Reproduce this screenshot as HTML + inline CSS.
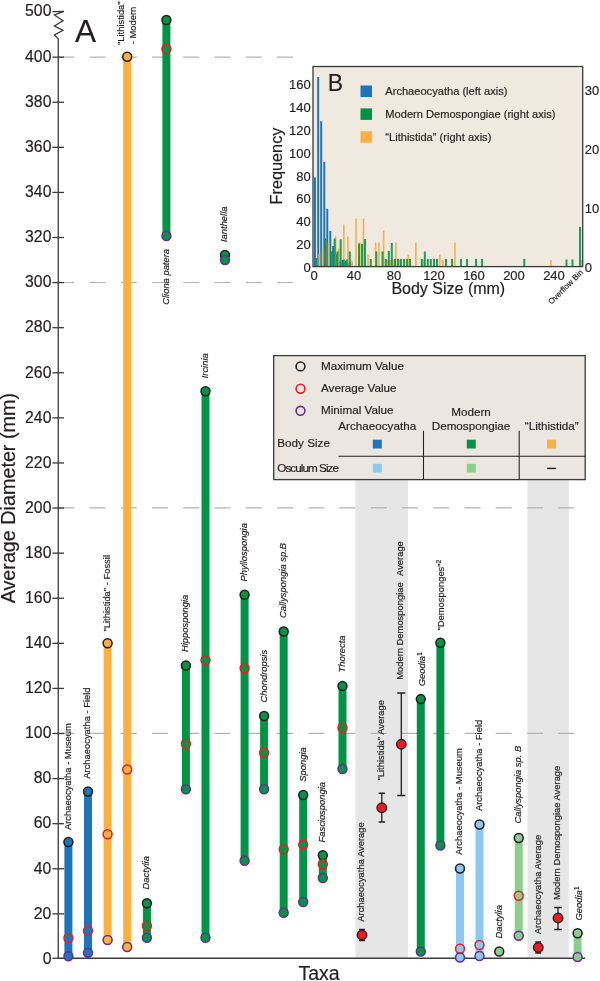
<!DOCTYPE html>
<html><head><meta charset="utf-8"><title>Figure</title>
<style>html,body{margin:0;padding:0;background:#fff}svg{display:block;will-change:transform}text{stroke:#231f20;stroke-width:0.18px}</style></head>
<body>
<svg width="600" height="981" viewBox="0 0 600 981" font-family="'Liberation Sans', Arial, sans-serif" fill="#231f20">
<rect width="600" height="981" fill="#fff"/>
<rect x="355.5" y="480" width="52.5" height="477.6" fill="#e6e6e7"/>
<rect x="527.5" y="480" width="41.3" height="477.6" fill="#e6e6e7"/>
<line x1="58.25" y1="733.40" x2="575.3" y2="733.40" stroke="#b1b3b5" stroke-width="1.2" stroke-dasharray="16 15.25"/>
<line x1="58.25" y1="507.95" x2="575.3" y2="507.95" stroke="#b1b3b5" stroke-width="1.2" stroke-dasharray="16 15.25"/>
<line x1="58.25" y1="282.50" x2="293.3" y2="282.50" stroke="#b1b3b5" stroke-width="1.2" stroke-dasharray="16 15.25"/>
<line x1="58.25" y1="57.05" x2="293.3" y2="57.05" stroke="#b1b3b5" stroke-width="1.2" stroke-dasharray="16 15.25"/>
<path d="M64,11.3 L52.4,11.6 M64,11.3 L54.4,15 L63,20.7 L54.4,26 L63,30.3 L54.4,35 L58.25,38.7 L58.25,958.25 L585,958.25" fill="none" stroke="#3a3a3a" stroke-width="1.3" stroke-linejoin="miter"/>
<line x1="52.4" y1="958.25" x2="58.25" y2="958.25" stroke="#3a3a3a" stroke-width="1.3"/>
<line x1="52.4" y1="913.86" x2="64" y2="913.86" stroke="#3a3a3a" stroke-width="1.3"/>
<line x1="52.4" y1="868.77" x2="64" y2="868.77" stroke="#3a3a3a" stroke-width="1.3"/>
<line x1="52.4" y1="823.68" x2="64" y2="823.68" stroke="#3a3a3a" stroke-width="1.3"/>
<line x1="52.4" y1="778.59" x2="64" y2="778.59" stroke="#3a3a3a" stroke-width="1.3"/>
<line x1="52.4" y1="733.50" x2="64" y2="733.50" stroke="#3a3a3a" stroke-width="1.3"/>
<line x1="52.4" y1="688.41" x2="64" y2="688.41" stroke="#3a3a3a" stroke-width="1.3"/>
<line x1="52.4" y1="643.32" x2="64" y2="643.32" stroke="#3a3a3a" stroke-width="1.3"/>
<line x1="52.4" y1="598.23" x2="64" y2="598.23" stroke="#3a3a3a" stroke-width="1.3"/>
<line x1="52.4" y1="553.14" x2="64" y2="553.14" stroke="#3a3a3a" stroke-width="1.3"/>
<line x1="52.4" y1="508.05" x2="64" y2="508.05" stroke="#3a3a3a" stroke-width="1.3"/>
<line x1="52.4" y1="462.96" x2="64" y2="462.96" stroke="#3a3a3a" stroke-width="1.3"/>
<line x1="52.4" y1="417.87" x2="64" y2="417.87" stroke="#3a3a3a" stroke-width="1.3"/>
<line x1="52.4" y1="372.78" x2="64" y2="372.78" stroke="#3a3a3a" stroke-width="1.3"/>
<line x1="52.4" y1="327.69" x2="64" y2="327.69" stroke="#3a3a3a" stroke-width="1.3"/>
<line x1="52.4" y1="282.60" x2="64" y2="282.60" stroke="#3a3a3a" stroke-width="1.3"/>
<line x1="52.4" y1="237.51" x2="64" y2="237.51" stroke="#3a3a3a" stroke-width="1.3"/>
<line x1="52.4" y1="192.42" x2="64" y2="192.42" stroke="#3a3a3a" stroke-width="1.3"/>
<line x1="52.4" y1="147.33" x2="64" y2="147.33" stroke="#3a3a3a" stroke-width="1.3"/>
<line x1="52.4" y1="102.24" x2="64" y2="102.24" stroke="#3a3a3a" stroke-width="1.3"/>
<line x1="52.4" y1="57.15" x2="64" y2="57.15" stroke="#3a3a3a" stroke-width="1.3"/>
<text x="51.4" y="963.70" font-size="15.75" text-anchor="end">0</text>
<text x="51.4" y="918.61" font-size="15.75" text-anchor="end">20</text>
<text x="51.4" y="873.52" font-size="15.75" text-anchor="end">40</text>
<text x="51.4" y="828.43" font-size="15.75" text-anchor="end">60</text>
<text x="51.4" y="783.34" font-size="15.75" text-anchor="end">80</text>
<text x="51.4" y="738.25" font-size="15.75" text-anchor="end">100</text>
<text x="51.4" y="693.16" font-size="15.75" text-anchor="end">120</text>
<text x="51.4" y="648.07" font-size="15.75" text-anchor="end">140</text>
<text x="51.4" y="602.98" font-size="15.75" text-anchor="end">160</text>
<text x="51.4" y="557.89" font-size="15.75" text-anchor="end">180</text>
<text x="51.4" y="512.80" font-size="15.75" text-anchor="end">200</text>
<text x="51.4" y="467.71" font-size="15.75" text-anchor="end">220</text>
<text x="51.4" y="422.62" font-size="15.75" text-anchor="end">240</text>
<text x="51.4" y="377.53" font-size="15.75" text-anchor="end">260</text>
<text x="51.4" y="332.44" font-size="15.75" text-anchor="end">280</text>
<text x="51.4" y="287.35" font-size="15.75" text-anchor="end">300</text>
<text x="51.4" y="242.26" font-size="15.75" text-anchor="end">320</text>
<text x="51.4" y="197.17" font-size="15.75" text-anchor="end">340</text>
<text x="51.4" y="152.08" font-size="15.75" text-anchor="end">360</text>
<text x="51.4" y="106.99" font-size="15.75" text-anchor="end">380</text>
<text x="51.4" y="61.90" font-size="15.75" text-anchor="end">400</text>
<text x="51.4" y="16.1" font-size="15.75" text-anchor="end">500</text>
<text x="75.0" y="41.5" font-size="31.5">A</text>
<text transform="translate(15.2,498.2) rotate(-90)" font-size="19.75" text-anchor="middle">Average Diameter (mm)</text>
<text x="319.0" y="979.5" font-size="19.5" text-anchor="middle">Taxa</text>
<line x1="68.40" y1="842.00" x2="68.40" y2="956.25" stroke="#1c75bc" stroke-width="8"/>
<circle cx="68.40" cy="842.00" r="4.45" fill="#1c75bc" stroke="#231f20" stroke-width="1.55"/>
<circle cx="68.40" cy="938.00" r="4.45" fill="#1c75bc" stroke="#ed1c24" stroke-width="1.55"/>
<circle cx="68.40" cy="956.25" r="4.45" fill="#1c75bc" stroke="#662d91" stroke-width="1.55"/>
<line x1="88.00" y1="791.50" x2="88.00" y2="952.75" stroke="#1c75bc" stroke-width="8"/>
<circle cx="88.00" cy="791.50" r="4.45" fill="#1c75bc" stroke="#231f20" stroke-width="1.55"/>
<circle cx="88.00" cy="930.75" r="4.45" fill="#1c75bc" stroke="#ed1c24" stroke-width="1.55"/>
<circle cx="88.00" cy="952.75" r="4.45" fill="#1c75bc" stroke="#662d91" stroke-width="1.55"/>
<line x1="107.60" y1="643.25" x2="107.60" y2="940.00" stroke="#fbb040" stroke-width="8"/>
<circle cx="107.60" cy="643.25" r="4.45" fill="#fbb040" stroke="#231f20" stroke-width="1.55"/>
<circle cx="107.60" cy="834.25" r="4.45" fill="#fbb040" stroke="#ed1c24" stroke-width="1.55"/>
<circle cx="107.60" cy="940.00" r="4.45" fill="#fbb040" stroke="#662d91" stroke-width="1.55"/>
<line x1="127.20" y1="56.75" x2="127.20" y2="947.00" stroke="#fbb040" stroke-width="8"/>
<circle cx="127.20" cy="56.75" r="4.45" fill="#fbb040" stroke="#231f20" stroke-width="1.55"/>
<circle cx="127.20" cy="769.50" r="4.45" fill="#fbb040" stroke="#ed1c24" stroke-width="1.55"/>
<circle cx="127.20" cy="947.00" r="4.45" fill="#fbb040" stroke="#662d91" stroke-width="1.55"/>
<line x1="146.90" y1="903.25" x2="146.90" y2="937.75" stroke="#009444" stroke-width="8"/>
<circle cx="146.90" cy="903.25" r="4.45" fill="#009444" stroke="#231f20" stroke-width="1.55"/>
<circle cx="146.90" cy="925.75" r="4.45" fill="#009444" stroke="#ed1c24" stroke-width="1.55"/>
<circle cx="146.90" cy="937.75" r="4.45" fill="#009444" stroke="#662d91" stroke-width="1.55"/>
<line x1="166.40" y1="20.00" x2="166.40" y2="236.00" stroke="#009444" stroke-width="8"/>
<circle cx="166.40" cy="20.00" r="4.45" fill="#009444" stroke="#231f20" stroke-width="1.55"/>
<circle cx="166.40" cy="49.00" r="4.45" fill="#009444" stroke="#ed1c24" stroke-width="1.55"/>
<circle cx="166.40" cy="236.00" r="4.45" fill="#009444" stroke="#662d91" stroke-width="1.55"/>
<line x1="185.90" y1="665.50" x2="185.90" y2="789.25" stroke="#009444" stroke-width="8"/>
<circle cx="185.90" cy="665.50" r="4.45" fill="#009444" stroke="#231f20" stroke-width="1.55"/>
<circle cx="185.90" cy="743.75" r="4.45" fill="#009444" stroke="#ed1c24" stroke-width="1.55"/>
<circle cx="185.90" cy="789.25" r="4.45" fill="#009444" stroke="#662d91" stroke-width="1.55"/>
<line x1="205.50" y1="391.25" x2="205.50" y2="937.70" stroke="#009444" stroke-width="8"/>
<circle cx="205.50" cy="391.25" r="4.45" fill="#009444" stroke="#231f20" stroke-width="1.55"/>
<circle cx="205.50" cy="660.25" r="4.45" fill="#009444" stroke="#ed1c24" stroke-width="1.55"/>
<circle cx="205.50" cy="937.70" r="4.45" fill="#009444" stroke="#662d91" stroke-width="1.55"/>
<line x1="225.00" y1="255.00" x2="225.00" y2="260.00" stroke="#009444" stroke-width="8"/>
<circle cx="225.00" cy="255.00" r="4.45" fill="#009444" stroke="#231f20" stroke-width="1.55"/>
<circle cx="225.00" cy="260.00" r="4.45" fill="#009444" stroke="#662d91" stroke-width="1.55"/>
<line x1="244.60" y1="594.75" x2="244.60" y2="860.70" stroke="#009444" stroke-width="8"/>
<circle cx="244.60" cy="594.75" r="4.45" fill="#009444" stroke="#231f20" stroke-width="1.55"/>
<circle cx="244.60" cy="668.25" r="4.45" fill="#009444" stroke="#ed1c24" stroke-width="1.55"/>
<circle cx="244.60" cy="860.70" r="4.45" fill="#009444" stroke="#662d91" stroke-width="1.55"/>
<line x1="264.10" y1="716.00" x2="264.10" y2="789.25" stroke="#009444" stroke-width="8"/>
<circle cx="264.10" cy="716.00" r="4.45" fill="#009444" stroke="#231f20" stroke-width="1.55"/>
<circle cx="264.10" cy="752.75" r="4.45" fill="#009444" stroke="#ed1c24" stroke-width="1.55"/>
<circle cx="264.10" cy="789.25" r="4.45" fill="#009444" stroke="#662d91" stroke-width="1.55"/>
<line x1="283.70" y1="631.50" x2="283.70" y2="912.70" stroke="#009444" stroke-width="8"/>
<circle cx="283.70" cy="631.50" r="4.45" fill="#009444" stroke="#231f20" stroke-width="1.55"/>
<circle cx="283.70" cy="849.30" r="4.45" fill="#009444" stroke="#ed1c24" stroke-width="1.55"/>
<circle cx="283.70" cy="912.70" r="4.45" fill="#009444" stroke="#662d91" stroke-width="1.55"/>
<line x1="303.20" y1="795.00" x2="303.20" y2="902.00" stroke="#009444" stroke-width="8"/>
<circle cx="303.20" cy="795.00" r="4.45" fill="#009444" stroke="#231f20" stroke-width="1.55"/>
<circle cx="303.20" cy="844.60" r="4.45" fill="#009444" stroke="#ed1c24" stroke-width="1.55"/>
<circle cx="303.20" cy="902.00" r="4.45" fill="#009444" stroke="#662d91" stroke-width="1.55"/>
<line x1="322.80" y1="855.20" x2="322.80" y2="878.00" stroke="#009444" stroke-width="8"/>
<circle cx="322.80" cy="855.20" r="4.45" fill="#009444" stroke="#231f20" stroke-width="1.55"/>
<circle cx="322.80" cy="864.30" r="4.45" fill="#009444" stroke="#ed1c24" stroke-width="1.55"/>
<circle cx="322.80" cy="878.00" r="4.45" fill="#009444" stroke="#662d91" stroke-width="1.55"/>
<line x1="342.50" y1="685.90" x2="342.50" y2="769.00" stroke="#009444" stroke-width="8"/>
<circle cx="342.50" cy="685.90" r="4.45" fill="#009444" stroke="#231f20" stroke-width="1.55"/>
<circle cx="342.50" cy="727.70" r="4.45" fill="#009444" stroke="#ed1c24" stroke-width="1.55"/>
<circle cx="342.50" cy="769.00" r="4.45" fill="#009444" stroke="#662d91" stroke-width="1.55"/>
<line x1="420.80" y1="699.10" x2="420.80" y2="951.50" stroke="#009444" stroke-width="8"/>
<circle cx="420.80" cy="699.10" r="4.45" fill="#009444" stroke="#231f20" stroke-width="1.55"/>
<circle cx="420.80" cy="951.50" r="4.45" fill="#009444" stroke="#662d91" stroke-width="1.55"/>
<line x1="440.40" y1="642.75" x2="440.40" y2="845.50" stroke="#009444" stroke-width="8"/>
<circle cx="440.40" cy="642.75" r="4.45" fill="#009444" stroke="#231f20" stroke-width="1.55"/>
<circle cx="440.40" cy="845.50" r="4.45" fill="#009444" stroke="#662d91" stroke-width="1.55"/>
<line x1="460.00" y1="868.50" x2="460.00" y2="957.50" stroke="#8dc8ee" stroke-width="8"/>
<circle cx="460.00" cy="868.50" r="4.45" fill="#8dc8ee" stroke="#231f20" stroke-width="1.55"/>
<circle cx="460.00" cy="948.75" r="4.45" fill="#8dc8ee" stroke="#ed1c24" stroke-width="1.55"/>
<circle cx="460.00" cy="957.50" r="4.45" fill="#8dc8ee" stroke="#662d91" stroke-width="1.55"/>
<line x1="479.50" y1="824.50" x2="479.50" y2="956.00" stroke="#8dc8ee" stroke-width="8"/>
<circle cx="479.50" cy="824.50" r="4.45" fill="#8dc8ee" stroke="#231f20" stroke-width="1.55"/>
<circle cx="479.50" cy="945.00" r="4.45" fill="#8dc8ee" stroke="#ed1c24" stroke-width="1.55"/>
<circle cx="479.50" cy="956.00" r="4.45" fill="#8dc8ee" stroke="#662d91" stroke-width="1.55"/>
<circle cx="499.25" cy="951.50" r="4.45" fill="#8ccf8a" stroke="#231f20" stroke-width="1.55"/>
<line x1="518.75" y1="838.00" x2="518.75" y2="935.75" stroke="#8ccf8a" stroke-width="8"/>
<circle cx="518.75" cy="838.00" r="4.45" fill="#8ccf8a" stroke="#231f20" stroke-width="1.55"/>
<circle cx="518.75" cy="895.75" r="4.45" fill="#8ccf8a" stroke="#ed1c24" stroke-width="1.55"/>
<circle cx="518.75" cy="935.75" r="4.45" fill="#8ccf8a" stroke="#662d91" stroke-width="1.55"/>
<line x1="577.60" y1="933.25" x2="577.60" y2="957.00" stroke="#8ccf8a" stroke-width="8"/>
<circle cx="577.60" cy="933.25" r="4.45" fill="#8ccf8a" stroke="#231f20" stroke-width="1.55"/>
<circle cx="577.60" cy="957.00" r="4.45" fill="#8ccf8a" stroke="#662d91" stroke-width="1.55"/>
<path d="M362.00,929.50 V940.50 M359.00,929.50 H365.00 M359.00,940.50 H365.00" stroke="#231f20" stroke-width="1.3" fill="none"/>
<circle cx="362.00" cy="935.00" r="4.7" fill="#ed1c24" stroke="#231f20" stroke-width="1.5"/>
<path d="M381.80,793.25 V822.00 M378.70,793.25 H384.90 M378.70,822.00 H384.90" stroke="#231f20" stroke-width="1.3" fill="none"/>
<circle cx="381.80" cy="807.75" r="4.7" fill="#ed1c24" stroke="#231f20" stroke-width="1.5"/>
<path d="M401.30,693.00 V795.50 M397.30,693.00 H405.30 M397.30,795.50 H405.30" stroke="#231f20" stroke-width="1.3" fill="none"/>
<circle cx="401.30" cy="744.25" r="4.7" fill="#ed1c24" stroke="#231f20" stroke-width="1.5"/>
<path d="M538.25,942.00 V953.00 M535.25,942.00 H541.25 M535.25,953.00 H541.25" stroke="#231f20" stroke-width="1.3" fill="none"/>
<circle cx="538.25" cy="947.50" r="4.7" fill="#ed1c24" stroke="#231f20" stroke-width="1.5"/>
<path d="M558.00,907.50 V929.50 M554.25,907.50 H561.75 M554.25,929.50 H561.75" stroke="#231f20" stroke-width="1.3" fill="none"/>
<circle cx="558.00" cy="918.00" r="4.7" fill="#ed1c24" stroke="#231f20" stroke-width="1.5"/>
<text transform="translate(70.80,830.00) rotate(-90)" font-size="9.4" text-anchor="start">Archaeocyatha - Museum</text>
<text transform="translate(90.40,778.70) rotate(-90)" font-size="9.4" text-anchor="start">Archaeocyatha - Field</text>
<text transform="translate(110.00,631.50) rotate(-90)" font-size="9.4" text-anchor="start">&quot;Lithistida&quot; - Fossil</text>
<text transform="translate(123.80,45.00) rotate(-90)" font-size="9.4" text-anchor="start">&quot;Lithistida&quot;</text>
<text transform="translate(135.60,44.20) rotate(-90)" font-size="9.4" text-anchor="start">- Modern</text>
<text transform="translate(149.30,889.50) rotate(-90)" font-size="9.4" font-style="italic" text-anchor="start">Dactylia</text>
<text transform="translate(168.80,249.00) rotate(-90)" font-size="9.4" font-style="italic" text-anchor="end">Cliona patera</text>
<text transform="translate(188.30,652.00) rotate(-90)" font-size="9.4" font-style="italic" text-anchor="start">Hippospongia</text>
<text transform="translate(207.90,378.30) rotate(-90)" font-size="9.4" font-style="italic" text-anchor="start">Ircinia</text>
<text transform="translate(227.40,242.00) rotate(-90)" font-size="9.4" font-style="italic" text-anchor="start">Ianthella</text>
<text transform="translate(247.00,581.50) rotate(-90)" font-size="9.4" font-style="italic" text-anchor="start">Phyllospongia</text>
<text transform="translate(266.50,702.50) rotate(-90)" font-size="9.4" font-style="italic" text-anchor="start">Chondropsis</text>
<text transform="translate(286.10,618.00) rotate(-90)" font-size="9.4" font-style="italic" text-anchor="start">Callyspongia sp.B</text>
<text transform="translate(305.60,781.70) rotate(-90)" font-size="9.4" font-style="italic" text-anchor="start">Spongia</text>
<text transform="translate(325.20,842.50) rotate(-90)" font-size="9.4" font-style="italic" text-anchor="start">Fasciospongia</text>
<text transform="translate(344.90,672.50) rotate(-90)" font-size="9.4" font-style="italic" text-anchor="start">Thorecta</text>
<text transform="translate(364.40,921.70) rotate(-90)" font-size="9.4" text-anchor="start">Archaeocyatha Average</text>
<text transform="translate(384.20,780.50) rotate(-90)" font-size="9.4" text-anchor="start">&quot;Lithistida&quot; Average</text>
<text transform="translate(403.40,679.80) rotate(-90)" font-size="9.4" text-anchor="start">Modern Demospongiae&#160;&#160;<tspan dx="1.2">Average</tspan></text>
<text transform="translate(425.40,686.20) rotate(-90)" font-size="9.4" font-style="italic" text-anchor="start">Geodia<tspan font-size="6.3" dy="-3.6" dx="0.3" font-style="normal">1</tspan></text>
<text transform="translate(444.10,630.50) rotate(-90)" font-size="9.4" text-anchor="start">&quot;Demosponges&quot;<tspan font-size="6.3" dy="-3.6" dx="0.2">2</tspan></text>
<text transform="translate(462.40,855.00) rotate(-90)" font-size="9.4" text-anchor="start">Archaeocyatha - Museum</text>
<text transform="translate(481.70,811.00) rotate(-90)" font-size="9.4" text-anchor="start">Archaeocyatha - Field</text>
<text transform="translate(501.65,938.50) rotate(-90)" font-size="9.4" font-style="italic" text-anchor="start">Dactylia</text>
<text transform="translate(520.90,823.50) rotate(-90)" font-size="9.4" font-style="italic" text-anchor="start">Callyspongia sp. B</text>
<text transform="translate(540.65,934.20) rotate(-90)" font-size="9.4" text-anchor="start">Archaeocyatha Average</text>
<text transform="translate(560.40,900.00) rotate(-90)" font-size="9.4" text-anchor="start">Modern Demospongiae Average</text>
<text transform="translate(582.20,920.50) rotate(-90)" font-size="9.4" font-style="italic" text-anchor="start">Geodia<tspan font-size="6.3" dy="-3.6" dx="0.3" font-style="normal">1</tspan></text>
<rect x="273.7" y="355.6" width="311.5" height="124" fill="#ebe7e0" stroke="#3a3a3a" stroke-width="1.3"/>
<circle cx="300.5" cy="366.4" r="4.4" fill="none" stroke="#231f20" stroke-width="1.6"/>
<text x="321" y="369.8" font-size="11.7">Maximum Value</text>
<circle cx="300.5" cy="388.7" r="4.4" fill="none" stroke="#ed1c24" stroke-width="1.6"/>
<text x="321" y="392.1" font-size="11.7">Average Value</text>
<circle cx="300.5" cy="410.8" r="4.4" fill="none" stroke="#662d91" stroke-width="1.6"/>
<text x="321" y="414.2" font-size="11.7">Minimal Value</text>
<text x="377.2" y="429.9" font-size="11.7" text-anchor="middle">Archaeocyatha</text>
<text x="471" y="415.6" font-size="11.7" text-anchor="middle">Modern</text>
<text x="471" y="429.7" font-size="11.7" text-anchor="middle">Demospongiae</text>
<text x="551.7" y="429.9" font-size="11.7" text-anchor="middle">“Lithistida”</text>
<text x="277.3" y="447.1" font-size="11.7">Body Size</text>
<text x="277.3" y="471.6" font-size="11.7" letter-spacing="-0.95">Osculum Size</text>
<path d="M338.5,456.2 H585.2 M423.5,430.7 V479.6 M519.2,430.7 V479.6" stroke="#231f20" stroke-width="1.05" fill="none"/>
<rect x="372.8" y="439.7" width="9" height="8.8" fill="#1c75bc"/>
<rect x="372.8" y="463.8" width="9" height="8.8" fill="#8dc8ee"/>
<rect x="466.8" y="439.7" width="9" height="8.8" fill="#009444"/>
<rect x="466.8" y="463.8" width="9" height="8.8" fill="#8ccf8a"/>
<rect x="547.0" y="439.7" width="9" height="8.8" fill="#fbb040"/>
<line x1="547" y1="468.4" x2="556" y2="468.4" stroke="#231f20" stroke-width="1.4"/>
<rect x="313.0" y="66.5" width="269.7" height="200.1" fill="#f0e9df"/>
<rect x="314.0" y="177.50" width="1.95" height="89.10" fill="#1c75bc"/>
<rect x="317.2" y="77.00" width="1.95" height="189.60" fill="#1c75bc"/>
<rect x="320.2" y="121.25" width="1.95" height="145.35" fill="#1c75bc"/>
<rect x="323.3" y="162.00" width="1.95" height="104.60" fill="#1c75bc"/>
<rect x="326.3" y="208.70" width="1.95" height="57.90" fill="#1c75bc"/>
<rect x="329.3" y="231.00" width="1.95" height="35.60" fill="#1c75bc"/>
<rect x="332.2" y="246.00" width="1.95" height="20.60" fill="#1c75bc"/>
<rect x="335.5" y="254.00" width="1.95" height="12.60" fill="#1c75bc"/>
<rect x="338.5" y="261.50" width="1.95" height="5.10" fill="#1c75bc"/>
<rect x="341.5" y="260.00" width="1.95" height="6.60" fill="#1c75bc"/>
<rect x="344.5" y="261.00" width="1.95" height="5.60" fill="#1c75bc"/>
<rect x="347.5" y="263.00" width="1.95" height="3.60" fill="#1c75bc"/>
<rect x="350.5" y="262.00" width="1.95" height="4.60" fill="#1c75bc"/>
<rect x="318.5" y="254.50" width="1.6" height="12.10" fill="#fbb040"/>
<rect x="321.8" y="248.50" width="1.6" height="18.10" fill="#fbb040"/>
<rect x="327.8" y="242.50" width="1.6" height="24.10" fill="#fbb040"/>
<rect x="334.8" y="236.50" width="1.6" height="30.10" fill="#fbb040"/>
<rect x="338.0" y="248.50" width="1.6" height="18.10" fill="#fbb040"/>
<rect x="343.0" y="224.50" width="1.6" height="42.10" fill="#fbb040"/>
<rect x="347.0" y="236.50" width="1.6" height="30.10" fill="#fbb040"/>
<rect x="350.8" y="260.50" width="1.6" height="6.10" fill="#fbb040"/>
<rect x="355.2" y="218.50" width="1.6" height="48.10" fill="#fbb040"/>
<rect x="359.0" y="242.50" width="1.6" height="24.10" fill="#fbb040"/>
<rect x="362.7" y="218.50" width="1.6" height="48.10" fill="#fbb040"/>
<rect x="367.2" y="254.50" width="1.6" height="12.10" fill="#fbb040"/>
<rect x="374.8" y="242.50" width="1.6" height="24.10" fill="#fbb040"/>
<rect x="378.2" y="242.50" width="1.6" height="24.10" fill="#fbb040"/>
<rect x="382.8" y="230.50" width="1.6" height="36.10" fill="#fbb040"/>
<rect x="386.5" y="260.00" width="1.6" height="6.60" fill="#fbb040"/>
<rect x="389.5" y="260.00" width="1.6" height="6.60" fill="#fbb040"/>
<rect x="392.5" y="260.00" width="1.6" height="6.60" fill="#fbb040"/>
<rect x="395.0" y="242.50" width="1.6" height="24.10" fill="#fbb040"/>
<rect x="399.0" y="260.00" width="1.6" height="6.60" fill="#fbb040"/>
<rect x="407.5" y="254.50" width="1.6" height="12.10" fill="#fbb040"/>
<rect x="415.0" y="242.50" width="1.6" height="24.10" fill="#fbb040"/>
<rect x="422.8" y="260.00" width="1.6" height="6.60" fill="#fbb040"/>
<rect x="439.0" y="254.50" width="1.6" height="12.10" fill="#fbb040"/>
<rect x="442.0" y="260.00" width="1.6" height="6.60" fill="#fbb040"/>
<rect x="454.2" y="242.50" width="1.6" height="24.10" fill="#fbb040"/>
<rect x="550.2" y="260.00" width="1.6" height="6.60" fill="#fbb040"/>
<rect x="581.2" y="260.00" width="1.6" height="6.60" fill="#fbb040"/>
<rect x="315.0" y="258.00" width="2" height="8.60" fill="#009444" fill-opacity="0.88"/>
<rect x="324.5" y="238.50" width="2" height="28.10" fill="#009444" fill-opacity="0.88"/>
<rect x="330.5" y="251.50" width="2" height="15.10" fill="#009444" fill-opacity="0.88"/>
<rect x="333.7" y="238.50" width="2" height="28.10" fill="#009444" fill-opacity="0.88"/>
<rect x="336.5" y="251.50" width="2" height="15.10" fill="#009444" fill-opacity="0.88"/>
<rect x="339.7" y="239.30" width="2" height="27.30" fill="#009444" fill-opacity="0.88"/>
<rect x="342.8" y="259.50" width="2" height="7.10" fill="#009444" fill-opacity="0.88"/>
<rect x="345.8" y="259.50" width="2" height="7.10" fill="#009444" fill-opacity="0.88"/>
<rect x="348.8" y="251.50" width="2" height="15.10" fill="#009444" fill-opacity="0.88"/>
<rect x="358.0" y="243.50" width="2" height="23.10" fill="#009444" fill-opacity="0.88"/>
<rect x="361.0" y="244.00" width="2" height="22.60" fill="#009444" fill-opacity="0.88"/>
<rect x="364.0" y="239.00" width="2" height="27.60" fill="#009444" fill-opacity="0.88"/>
<rect x="369.8" y="259.00" width="2" height="7.60" fill="#009444" fill-opacity="0.88"/>
<rect x="375.3" y="251.50" width="2" height="15.10" fill="#009444" fill-opacity="0.88"/>
<rect x="381.5" y="251.50" width="2" height="15.10" fill="#009444" fill-opacity="0.88"/>
<rect x="384.8" y="259.00" width="2" height="7.60" fill="#009444" fill-opacity="0.88"/>
<rect x="387.8" y="251.00" width="2" height="15.60" fill="#009444" fill-opacity="0.88"/>
<rect x="390.8" y="243.00" width="2" height="23.60" fill="#009444" fill-opacity="0.88"/>
<rect x="394.0" y="259.00" width="2" height="7.60" fill="#009444" fill-opacity="0.88"/>
<rect x="397.0" y="259.00" width="2" height="7.60" fill="#009444" fill-opacity="0.88"/>
<rect x="400.0" y="259.00" width="2" height="7.60" fill="#009444" fill-opacity="0.88"/>
<rect x="403.0" y="259.00" width="2" height="7.60" fill="#009444" fill-opacity="0.88"/>
<rect x="406.0" y="259.00" width="2" height="7.60" fill="#009444" fill-opacity="0.88"/>
<rect x="409.0" y="259.00" width="2" height="7.60" fill="#009444" fill-opacity="0.88"/>
<rect x="420.8" y="259.00" width="2" height="7.60" fill="#009444" fill-opacity="0.88"/>
<rect x="423.8" y="251.50" width="2" height="15.10" fill="#009444" fill-opacity="0.88"/>
<rect x="426.8" y="259.00" width="2" height="7.60" fill="#009444" fill-opacity="0.88"/>
<rect x="429.8" y="259.00" width="2" height="7.60" fill="#009444" fill-opacity="0.88"/>
<rect x="433.0" y="259.00" width="2" height="7.60" fill="#009444" fill-opacity="0.88"/>
<rect x="436.0" y="259.00" width="2" height="7.60" fill="#009444" fill-opacity="0.88"/>
<rect x="445.0" y="259.00" width="2" height="7.60" fill="#009444" fill-opacity="0.88"/>
<rect x="451.0" y="259.00" width="2" height="7.60" fill="#009444" fill-opacity="0.88"/>
<rect x="460.0" y="259.00" width="2" height="7.60" fill="#009444" fill-opacity="0.88"/>
<rect x="466.0" y="259.00" width="2" height="7.60" fill="#009444" fill-opacity="0.88"/>
<rect x="475.0" y="259.00" width="2" height="7.60" fill="#009444" fill-opacity="0.88"/>
<rect x="481.0" y="259.00" width="2" height="7.60" fill="#009444" fill-opacity="0.88"/>
<rect x="523.3" y="259.00" width="2" height="7.60" fill="#009444" fill-opacity="0.88"/>
<rect x="565.5" y="259.50" width="2" height="7.10" fill="#009444" fill-opacity="0.88"/>
<rect x="571.5" y="259.50" width="2" height="7.10" fill="#009444" fill-opacity="0.88"/>
<rect x="579.0" y="227.00" width="2" height="39.60" fill="#009444" fill-opacity="0.88"/>
<rect x="313.0" y="66.5" width="269.7" height="200.1" fill="none" stroke="#3a3a3a" stroke-width="1.3"/>
<text x="327.8" y="91.2" font-size="23">B</text>
<rect x="360.5" y="85.5" width="11.5" height="11.5" fill="#1c75bc"/>
<text x="385.3" y="94.7" font-size="11.1">Archaeocyatha (left axis)</text>
<rect x="360.5" y="108.4" width="11.5" height="11.5" fill="#009444"/>
<text x="385.3" y="117.6" font-size="11.1">Modern Demospongiae (right axis)</text>
<rect x="360.5" y="131.3" width="11.5" height="11.5" fill="#fbb040"/>
<text x="385.3" y="140.5" font-size="11.1">“Lithistida” (right axis)</text>
<text x="310.7" y="271.8" font-size="13" text-anchor="end">0</text>
<text x="310.7" y="249.0" font-size="13" text-anchor="end">20</text>
<text x="310.7" y="226.2" font-size="13" text-anchor="end">40</text>
<text x="310.7" y="203.4" font-size="13" text-anchor="end">60</text>
<text x="310.7" y="180.6" font-size="13" text-anchor="end">80</text>
<text x="310.7" y="157.8" font-size="13" text-anchor="end">100</text>
<text x="310.7" y="135.0" font-size="13" text-anchor="end">120</text>
<text x="310.7" y="112.2" font-size="13" text-anchor="end">140</text>
<text x="310.7" y="89.4" font-size="13" text-anchor="end">160</text>
<text x="584.7" y="271.8" font-size="13">0</text>
<text x="584.7" y="212.8" font-size="13">10</text>
<text x="584.7" y="153.8" font-size="13">20</text>
<text x="584.7" y="94.8" font-size="13">30</text>
<text x="314.1" y="279.6" font-size="13" text-anchor="middle">0</text>
<text x="354.1" y="279.6" font-size="13" text-anchor="middle">40</text>
<text x="394.1" y="279.6" font-size="13" text-anchor="middle">80</text>
<text x="434.0" y="279.6" font-size="13" text-anchor="middle">120</text>
<text x="474.0" y="279.6" font-size="13" text-anchor="middle">160</text>
<text x="514.0" y="279.6" font-size="13" text-anchor="middle">200</text>
<text x="554.0" y="279.6" font-size="13" text-anchor="middle">240</text>
<text transform="translate(282.2,166) rotate(-90)" font-size="16.3" text-anchor="middle">Frequency</text>
<text x="448.3" y="293.8" font-size="16" text-anchor="middle">Body Size (mm)</text>
<text transform="translate(583.6,272.8) rotate(-45)" font-size="8" text-anchor="end">Overflow Bin</text>
</svg>
</body></html>
